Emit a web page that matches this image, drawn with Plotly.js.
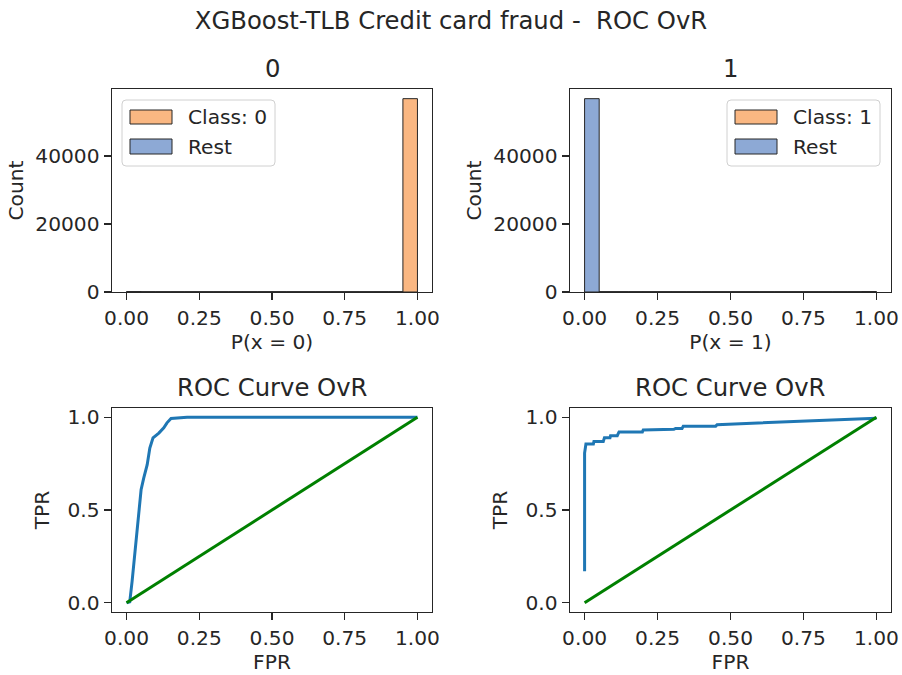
<!DOCTYPE html>
<html><head><meta charset="utf-8">
<script src="https://cdn.plot.ly/plotly-3.0.1.min.js"></script>
<style>html,body{margin:0;padding:0;background:#fff}</style>
</head><body><div id="chart" style="width:902px;height:675px"></div>
<script>
// ---------- data ----------
const binCenters = [0.025,0.075,0.125,0.175,0.225,0.275,0.325,0.375,0.425,0.475,0.525,0.575,0.625,0.675,0.725,0.775,0.825,0.875,0.925,0.975];
// P(x = 0): class 0 samples vs rest
const class0_p0 = [3,2,1,1,2,1,1,2,1,1,2,1,2,2,3,3,4,6,9,56817];
const rest_p0   = [80,3,1,1,0,1,0,1,0,1,0,1,0,0,1,1,1,1,2,3];
// P(x = 1): class 1 samples vs rest
const class1_p1 = [3,2,1,1,1,1,0,0,1,0,1,0,1,0,1,0,1,1,3,80];
const rest_p1   = [56817,9,6,4,3,3,2,2,1,2,1,1,2,1,1,2,1,1,2,3];
// ROC curves
const rocFPR0 = [0,0.011,0.019,0.031,0.042,0.050,0.059,0.071,0.080,0.091,0.111,0.128,0.139,0.153,0.208,1.0];
const rocTPR0 = [0,0.005,0.114,0.312,0.492,0.609,0.672,0.744,0.834,0.889,0.915,0.943,0.970,0.993,1.0,1.0];
const rocFPR1 = [0,0,0.0046,0.030,0.032,0.064,0.068,0.087,0.089,0.112,0.118,0.198,0.201,0.306,0.312,0.334,0.338,0.449,0.454,1.0];
const rocTPR1 = [0.17,0.807,0.856,0.856,0.870,0.870,0.889,0.889,0.901,0.901,0.921,0.921,0.932,0.935,0.940,0.940,0.951,0.951,0.960,0.995];
const chanceX = [0,1];
const chanceY = [0,1];
// ticks & labels
const probTicks = [0,0.25,0.5,0.75,1.0];
const probTickText = ['0.00','0.25','0.50','0.75','1.00'];
const countTicks = [0,20000,40000];
const countTickText = ['0','20000','40000'];
const rateTicks = [0,0.5,1.0];
const rateTickText = ['0.0','0.5','1.0'];
const panelTitles = ['0','1','ROC Curve OvR','ROC Curve OvR'];
const legendLabels = [['Class: 0','Rest'],['Class: 1','Rest']];

// ---------- style ----------
const FONT = 'DejaVu Sans, sans-serif';
const INK = '#262626';
const ORANGE = 'rgb(250,183,130)';
const BLUE = 'rgb(141,169,213)';
const FS = 20.2, FL = 24.3;
const W = 902, H = 675;
const M = {l:112, r:11, t:89, b:63};
const PW = W - M.l - M.r, PH = H - M.t - M.b;
const px = x => (x - M.l) / PW;
const py = y => (H - M.b - y) / PH;

const maxCount = Math.max(...class0_p0, ...rest_p1);

function bars(x, y, color, xa, ya, name) {
  return {type:'bar', x:x, y:y, width:0.05, name:name, xaxis:xa, yaxis:ya,
    marker:{color:color, line:{color:INK, width:1}}, showlegend:false, hoverinfo:'x+y'};
}
function line(x, y, color, xa, ya, name) {
  return {type:'scatter', mode:'lines', x:x, y:y, name:name, xaxis:xa, yaxis:ya,
    line:{color:color, width:3}, showlegend:false};
}

const data = [
  bars(binCenters, rest_p0, BLUE, 'x', 'y', 'Rest'),
  bars(binCenters, class0_p0, ORANGE, 'x', 'y', 'Class: 0'),
  bars(binCenters, class1_p1, ORANGE, 'x2', 'y2', 'Class: 1'),
  bars(binCenters, rest_p1, BLUE, 'x2', 'y2', 'Rest'),
  line(rocFPR0, rocTPR0, '#1f77b4', 'x3', 'y3', 'ROC'),
  line(chanceX, chanceY, '#008000', 'x3', 'y3', 'Chance'),
  line(rocFPR1, rocTPR1, '#1f77b4', 'x4', 'y4', 'ROC'),
  line(chanceX, chanceY, '#008000', 'x4', 'y4', 'Chance')
];

function axis(extra) {
  return Object.assign({
    showline:true, mirror:true, linecolor:INK, linewidth:1.4,
    ticks:'outside', ticklen:7, tickwidth:1.4, tickcolor:INK,
    showgrid:false, zeroline:false, fixedrange:true,
    tickfont:{family:FONT, size:FS, color:INK}, ticklabelstandoff:0
  }, extra);
}
const xDomL = [0, 320/PW], xDomR = [(570-M.l)/PW, 1];
const yDomT = [py(292), 1], yDomB = [0, py(408)];
const ttl = (t, s) => ({text:t, standoff:s, font:{family:FONT, size:FS, color:INK}});

const layout = {
  width:W, height:H, margin:M, paper_bgcolor:'#fff', plot_bgcolor:'#fff',
  barmode:'overlay', bargap:0, showlegend:false,
  font:{family:FONT, color:INK},
  title:{text:'XGBoost-TLB Credit card fraud -  ROC OvR', font:{family:FONT, size:FL, color:INK},
         x:0.5, xref:'container', xanchor:'center', y:1-20/H, yref:'container', yanchor:'middle'},
  xaxis: axis({domain:xDomL, anchor:'y', range:[-0.05,1.05], tickmode:'array', tickvals:probTicks, ticktext:probTickText, title:ttl('P(x = 0)',4)}),
  yaxis: axis({domain:yDomT, anchor:'x', range:[0, maxCount*1.05], tickmode:'array', tickvals:countTicks, ticktext:countTickText, title:ttl('Count',6)}),
  xaxis2: axis({domain:xDomR, anchor:'y2', range:[-0.05,1.05], tickmode:'array', tickvals:probTicks, ticktext:probTickText, title:ttl('P(x = 1)',4)}),
  yaxis2: axis({domain:yDomT, anchor:'x2', range:[0, maxCount*1.05], tickmode:'array', tickvals:countTicks, ticktext:countTickText, title:ttl('Count',6)}),
  xaxis3: axis({domain:xDomL, anchor:'y3', range:[-0.05,1.05], tickmode:'array', tickvals:probTicks, ticktext:probTickText, title:ttl('FPR',4)}),
  yaxis3: axis({domain:yDomB, anchor:'x3', range:[-0.05,1.05], tickmode:'array', tickvals:rateTicks, ticktext:rateTickText, title:ttl('TPR',12)}),
  xaxis4: axis({domain:xDomR, anchor:'y4', range:[-0.05,1.05], tickmode:'array', tickvals:probTicks, ticktext:probTickText, title:ttl('FPR',4)}),
  yaxis4: axis({domain:yDomB, anchor:'x4', range:[-0.05,1.05], tickmode:'array', tickvals:rateTicks, ticktext:rateTickText, title:ttl('TPR',12)}),
  annotations:[], shapes:[]
};

// panel titles
const axPairs = [['x','y'],['x2','y2'],['x3','y3'],['x4','y4']];
panelTitles.forEach((t,i) => {
  layout.annotations.push({text:t, xref:axPairs[i][0]+' domain', yref:axPairs[i][1]+' domain', x:0.5, y:1,
    xanchor:'center', yanchor:'bottom', yshift:4, showarrow:false, font:{family:FONT, size:FL, color:INK}});
});

// legends (drawn as shapes + text)
function roundRect(x0,y0,x1,y1,r) {
  const P = (x,y) => px(x)+','+py(y);
  return 'M'+P(x0+r,y0)+' L'+P(x1-r,y0)+' Q'+P(x1,y0)+' '+P(x1,y0+r)+' L'+P(x1,y1-r)+' Q'+P(x1,y1)+' '+P(x1-r,y1)+
         ' L'+P(x0+r,y1)+' Q'+P(x0,y1)+' '+P(x0,y1-r)+' L'+P(x0,y0+r)+' Q'+P(x0,y0)+' '+P(x0+r,y0)+' Z';
}
const legendBoxes = [{x0:122, x1:275}, {x0:727, x1:880}];
legendBoxes.forEach((b,i) => {
  layout.shapes.push({type:'path', xref:'paper', yref:'paper', path:roundRect(b.x0,100,b.x1,166,4),
    fillcolor:'rgba(255,255,255,0.8)', line:{color:'#d0d0d0', width:1}, layer:'above'});
  const cols = [ORANGE, BLUE];
  const rows = [[110,124],[139,154]];
  rows.forEach((r,j) => {
    layout.shapes.push({type:'rect', xref:'paper', yref:'paper', x0:px(b.x0+8), x1:px(b.x0+50), y0:py(r[1]), y1:py(r[0]),
      fillcolor:cols[j], line:{color:INK, width:1}, layer:'above'});
    layout.annotations.push({text:legendLabels[i][j], xref:'paper', yref:'paper', x:px(b.x0+64), y:py((r[0]+r[1])/2),
      xanchor:'left', yanchor:'middle', showarrow:false, font:{family:FONT, size:FS, color:INK}});
  });
});

Plotly.newPlot('chart', data, layout, {displayModeBar:false, staticPlot:true});
</script>
</body></html>
